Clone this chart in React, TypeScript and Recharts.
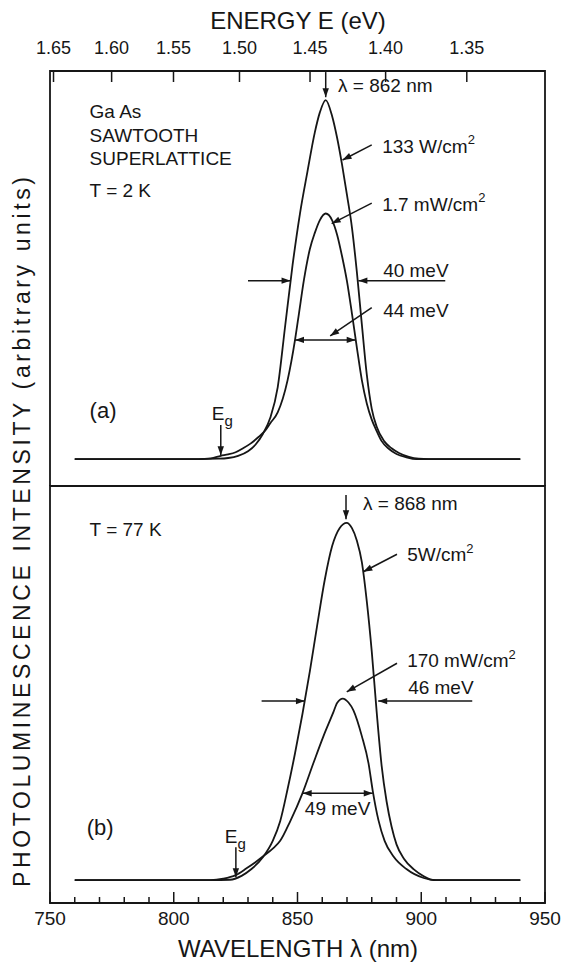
import React from "react";
import {
  LineChart,
  Line,
  XAxis,
  YAxis,
  ReferenceArea,
  ReferenceLine,
  ReferenceDot,
} from "recharts";

const INK = "#161616";
const FONT = "'Liberation Sans', Arial, sans-serif";

// top axis: photon energy in eV, placed at lambda = 1239.84 / E
const energyTicks = [1.65, 1.6, 1.55, 1.5, 1.45, 1.4, 1.35];
// bottom axis: wavelength in nm
const wavelengthTicks = [
  750, 760, 770, 780, 790, 800, 810, 820, 830, 840, 850, 860, 870, 880, 890,
  900, 910, 920, 930, 940, 950,
];
const wavelengthLabels = [750, 800, 850, 900, 950];

// (a) T = 2 K, 133 W/cm2
const a133Nm = [
  760, 780, 800, 810, 818, 822, 826, 830, 833, 836, 839, 842, 845, 848, 851,
  854, 857, 859, 861.4, 864, 866, 868, 870, 872, 874, 876, 878, 880, 882, 885,
  888, 891, 895, 899, 903, 910, 920, 930, 940,
];
const a133 = [
  0, 0, 0, 0, 0.001, 0.003, 0.009, 0.022, 0.04, 0.07, 0.115, 0.2, 0.37, 0.54,
  0.684, 0.8, 0.91, 0.965, 1.0, 0.955, 0.895, 0.82, 0.735, 0.645, 0.52, 0.375,
  0.235, 0.14, 0.09, 0.05, 0.03, 0.017, 0.006, 0.001, 0, 0, 0, 0, 0,
];
// (a) T = 2 K, 1.7 mW/cm2
const a17Nm = [
  760, 780, 800, 810, 815, 819, 822, 825, 828, 831, 834, 837, 839, 842, 846,
  849, 850.6, 852.6, 855, 857, 859, 861.4, 864, 866, 868, 870, 872, 874, 876,
  878, 880, 882, 884, 887, 890, 894, 898, 905, 920, 940,
];
const a17 = [
  0, 0, 0, 0, 0.002, 0.009, 0.013, 0.019, 0.03, 0.043, 0.06, 0.08, 0.1, 0.13,
  0.22, 0.332, 0.406, 0.499, 0.585, 0.63, 0.665, 0.684, 0.665, 0.625, 0.565,
  0.495, 0.405, 0.31, 0.22, 0.155, 0.11, 0.078, 0.05, 0.028, 0.014, 0.005, 0,
  0, 0, 0,
];
// (b) T = 77 K, 5 W/cm2
const b5Nm = [
  760, 780, 800, 815, 822.7, 827.4, 831.4, 836, 840, 843, 846, 849, 852, 855,
  858, 861, 864, 867, 869.9, 872, 874, 876, 878, 880, 882, 884, 886, 888, 890,
  893, 897, 901, 905, 915, 930, 940,
];
const b5 = [
  0, 0, 0, 0, 0.001, 0.012, 0.031, 0.064, 0.11, 0.165, 0.255, 0.355, 0.465,
  0.585, 0.715, 0.84, 0.935, 0.985, 1.0, 0.985, 0.95, 0.89, 0.78, 0.64, 0.47,
  0.32, 0.22, 0.15, 0.1, 0.06, 0.03, 0.011, 0, 0, 0, 0,
];
// (b) T = 77 K, 170 mW/cm2
const b170Nm = [
  760, 780, 800, 810, 815, 820, 825, 829.4, 833, 836, 840, 843, 847, 852, 856.4,
  860.5, 864.5, 866, 868.3, 870.6, 872.6, 876, 878.7, 880.4, 882.7, 885.2,
  888.8, 894, 901, 906, 920, 940,
];
const b170 = [
  0, 0, 0, 0, 0, 0.004, 0.014, 0.033, 0.05, 0.066, 0.088, 0.11, 0.164, 0.243,
  0.327, 0.403, 0.47, 0.496, 0.508, 0.497, 0.475, 0.403, 0.327, 0.25, 0.168,
  0.11, 0.066, 0.031, 0.006, 0, 0, 0,
];

const aDomain: [number, number] = [-0.075, 1.081];
const bDomain: [number, number] = [-0.064, 1.103];

type Arrow = { from: [number, number]; to: [number, number]; both?: boolean };
type Note = {
  x: number;
  y: number;
  t: string;
  sup?: string;
  sub?: string;
  anchor?: string;
  size?: number;
};

const aArrows: Arrow[] = [
  { from: [861.4, 1.078], to: [861.4, 1.008] },
  { from: [880.0, 0.875], to: [868.2, 0.833] },
  { from: [880.0, 0.713], to: [863.8, 0.656] },
  { from: [909.7, 0.497], to: [874.6, 0.497] },
  { from: [830.0, 0.497], to: [847.2, 0.497] },
  { from: [880.0, 0.422], to: [863.2, 0.343] },
  { from: [849.0, 0.332], to: [873.5, 0.332], both: true },
  { from: [819.0, 0.095], to: [819.0, 0.011] },
];
const aNotes: Note[] = [
  { x: 866.4, y: 1.042, t: "λ = 862 nm" },
  { x: 884.2, y: 0.872, t: "133 W/cm", sup: "2" },
  { x: 884.2, y: 0.71, t: "1.7 mW/cm", sup: "2" },
  { x: 884.6, y: 0.526, t: "40 meV" },
  { x: 884.6, y: 0.415, t: "44 meV" },
  { x: 766, y: 0.969, t: "Ga As" },
  { x: 766, y: 0.902, t: "SAWTOOTH" },
  { x: 766, y: 0.838, t: "SUPERLATTICE" },
  { x: 766, y: 0.747, t: "T = 2 K" },
  { x: 766, y: 0.136, t: "(a)", size: 22 },
  { x: 815.4, y: 0.128, t: "E", sub: "g" },
];

const bArrows: Arrow[] = [
  { from: [869.6, 1.078], to: [869.6, 1.01] },
  { from: [890.2, 0.912], to: [876.6, 0.863] },
  { from: [890.2, 0.607], to: [869.9, 0.527] },
  { from: [920.6, 0.501], to: [882.6, 0.501] },
  { from: [835.5, 0.501], to: [853.0, 0.501] },
  { from: [852.1, 0.243], to: [880.4, 0.243], both: true },
  { from: [825.1, 0.092], to: [825.1, 0.008] },
];
const bNotes: Note[] = [
  { x: 876.5, y: 1.054, t: "λ = 868 nm" },
  { x: 766, y: 0.98, t: "T = 77 K" },
  { x: 894.3, y: 0.911, t: "5W/cm", sup: "2" },
  { x: 894.3, y: 0.614, t: "170 mW/cm", sup: "2" },
  { x: 894.7, y: 0.539, t: "46 meV" },
  { x: 866.2, y: 0.2, t: "49 meV", anchor: "middle" },
  { x: 764.8, y: 0.148, t: "(b)", size: 22 },
  { x: 820.6, y: 0.123, t: "E", sub: "g" },
];

const toPts = (nm: number[], v: number[]) => nm.map((x, i) => ({ x, y: v[i] }));

const TOP_GAP = 23;
const BOT_GAP = 15;

const EnergyTick = (p: any) => {
  const { x, y, payload } = p;
  const e = (1239.84 / payload.value).toFixed(2);
  return (
    <g>
      <line x1={x} x2={x} y1={y + TOP_GAP} y2={y + TOP_GAP + 11} stroke={INK} strokeWidth={1.5} />
      <text x={x} y={y} textAnchor="middle" dominantBaseline="central" fontSize={18} fontFamily={FONT} fill={INK}>
        {e}
      </text>
    </g>
  );
};

const NmTick = (p: any) => {
  const { x, y, payload } = p;
  const v = payload.value;
  const major = wavelengthLabels.includes(v);
  return (
    <g>
      <line x1={x} x2={x} y1={y - BOT_GAP} y2={y - BOT_GAP - (major ? 11 : 6)} stroke={INK} strokeWidth={1.5} />
      {major && (
        <text x={x} y={y} textAnchor="middle" dominantBaseline="central" fontSize={19} fontFamily={FONT} fill={INK}>
          {v}
        </text>
      )}
    </g>
  );
};

const arrowShape = (both?: boolean) => (p: any) => {
  const { x1, y1, x2, y2 } = p;
  if (x1 == null || y1 == null) return <g />;
  const head = (hx: number, hy: number, fx: number, fy: number) => {
    const a = Math.atan2(hy - fy, hx - fx);
    const L = 9;
    const w = 3.2;
    const bx = hx - L * Math.cos(a);
    const by = hy - L * Math.sin(a);
    const px = -Math.sin(a) * w;
    const py = Math.cos(a) * w;
    return <polygon points={`${hx},${hy} ${bx + px},${by + py} ${bx - px},${by - py}`} fill={INK} />;
  };
  return (
    <g>
      <line x1={x1} y1={y1} x2={x2} y2={y2} stroke={INK} strokeWidth={1.5} />
      {head(x2, y2, x1, y1)}
      {both && head(x1, y1, x2, y2)}
    </g>
  );
};

const noteShape = (n: Note) => (p: any) => (
  <text
    x={p.cx}
    y={p.cy}
    textAnchor={n.anchor || "start"}
    dominantBaseline="central"
    fontSize={n.size || 19}
    fontFamily={FONT}
    fill={INK}
  >
    {n.t}
    {n.sup && (
      <tspan dy={-7} fontSize={13}>
        {n.sup}
      </tspan>
    )}
    {n.sub && (
      <tspan dy={7} fontSize={15}>
        {n.sub}
      </tspan>
    )}
  </text>
);

const renderDecor = (arrows: Arrow[], notes: Note[], domain: [number, number]) => [
  <ReferenceArea
    key="frame"
    x1={750}
    x2={950}
    y1={domain[0]}
    y2={domain[1]}
    fill="none"
    stroke={INK}
    strokeWidth={1.8}
    ifOverflow="visible"
  />,
  ...arrows.map((a, i) => (
    <ReferenceLine
      key={`ar${i}`}
      segment={[
        { x: a.from[0], y: a.from[1] },
        { x: a.to[0], y: a.to[1] },
      ]}
      ifOverflow="visible"
      shape={arrowShape(a.both)}
    />
  )),
  ...notes.map((n, i) => (
    <ReferenceDot key={`nt${i}`} x={n.x} y={n.y} r={0} ifOverflow="visible" shape={noteShape(n)} />
  )),
];

const lineProps = {
  dataKey: "y",
  type: "monotone" as const,
  stroke: INK,
  strokeWidth: 1.8,
  dot: false,
  isAnimationActive: false,
};

export default function App() {
  return (
    <div style={{ position: "absolute", left: 0, top: 0, width: 577, height: 964, background: "#fff" }}>
      <div style={{ position: "absolute", left: 0, top: 0 }}>
        <LineChart width={577} height={486} margin={{ top: 41, right: 32, bottom: 0, left: 50 }}>
          <XAxis
            dataKey="x"
            type="number"
            orientation="top"
            domain={[750, 950]}
            allowDataOverflow
            ticks={energyTicks.map((e) => 1239.84 / e)}
            interval={0}
            height={30}
            axisLine={false}
            tickLine={false}
            tickSize={0}
            tickMargin={TOP_GAP}
            tick={<EnergyTick />}
          />
          <YAxis hide type="number" domain={aDomain} allowDataOverflow />
          {renderDecor(aArrows, aNotes, aDomain)}
          <Line {...lineProps} data={toPts(a133Nm, a133)} />
          <Line {...lineProps} data={toPts(a17Nm, a17)} />
        </LineChart>
      </div>
      <div style={{ position: "absolute", left: 0, top: 0 }}>
        <LineChart width={577} height={964} margin={{ top: 486, right: 32, bottom: 31, left: 50 }}>
          <XAxis
            dataKey="x"
            type="number"
            orientation="bottom"
            domain={[750, 950]}
            allowDataOverflow
            ticks={wavelengthTicks}
            interval={0}
            height={30}
            axisLine={false}
            tickLine={false}
            tickSize={0}
            tickMargin={BOT_GAP}
            tick={<NmTick />}
          />
          <YAxis hide type="number" domain={bDomain} allowDataOverflow />
          {renderDecor(bArrows, bNotes, bDomain)}
          <Line {...lineProps} data={toPts(b5Nm, b5)} />
          <Line {...lineProps} data={toPts(b170Nm, b170)} />
        </LineChart>
      </div>
      <svg
        width={577}
        height={964}
        style={{ position: "absolute", left: 0, top: 0, pointerEvents: "none" }}
      >
        <text x={298} y={20} textAnchor="middle" dominantBaseline="central" fontSize={24} fontFamily={FONT} fill={INK}>
          ENERGY E (eV)
        </text>
        <text x={298} y={948} textAnchor="middle" dominantBaseline="central" fontSize={24} fontFamily={FONT} fill={INK}>
          WAVELENGTH λ (nm)
        </text>
        <text
          transform="translate(22 532) rotate(-90)"
          textAnchor="middle"
          dominantBaseline="central"
          fontSize={23}
          fontFamily={FONT}
          fill={INK}
          textLength={710}
          lengthAdjust="spacing"
        >
          PHOTOLUMINESCENCE INTENSITY (arbitrary units)
        </text>
      </svg>
    </div>
  );
}
